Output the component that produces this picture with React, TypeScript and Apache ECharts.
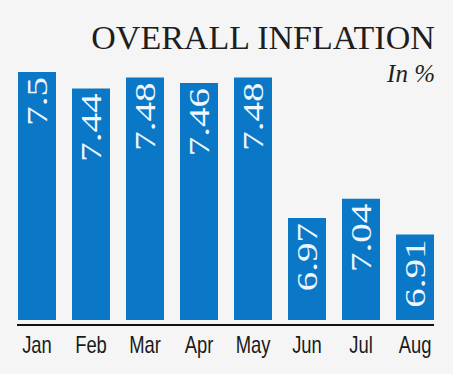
import React, { useEffect, useRef } from "react";
import * as echarts from "echarts";

const months = ["Jan", "Feb", "Mar", "Apr", "May", "Jun", "Jul", "Aug"];
const inflation = [7.5, 7.44, 7.48, 7.46, 7.48, 6.97, 7.04, 6.91];
const titleText = "OVERALL INFLATION";
const unitText = "In %";

const SERIF = "Liberation Serif";
const SANS = "Liberation Sans";

export default function App() {
  const ref = useRef<HTMLDivElement>(null);
  useEffect(() => {
    document.body.style.margin = "0";
    const chart = echarts.init(ref.current!, null, { renderer: "svg" });
    chart.setOption({
      animation: false,
      backgroundColor: "#f5f5f5",
      title: [
        {
          text: titleText,
          right: 12,
          top: 15,
          textStyle: {
            fontFamily: SERIF,
            fontWeight: "normal",
            fontSize: 34,
            color: "#1e1e1e",
          },
        },
        {
          text: unitText,
          right: 13,
          top: 56,
          textStyle: {
            fontFamily: SERIF,
            fontStyle: "italic",
            fontWeight: "normal",
            fontSize: 25,
            color: "#1e1e1e",
          },
        },
      ],
      grid: { left: 10, right: 11, top: 72, bottom: 54 },
      xAxis: {
        type: "category",
        data: months,
        axisLine: { show: false },
        axisTick: { show: false },
        axisLabel: { show: false },
      },
      yAxis: {
        type: "value",
        min: 6.6,
        max: 7.5,
        show: false,
        splitLine: { show: false },
      },
      series: [
        {
          type: "bar",
          data: inflation,
          barWidth: 38,
          itemStyle: { color: "#0a78c6" },
          label: { show: false },
        },
      ],
    });

    const graphics: any[] = [
      {
        id: "baseline",
        type: "line",
        shape: { x1: 17, y1: 325, x2: 434, y2: 325 },
        style: { stroke: "#111", lineWidth: 2 },
        z: 10,
      },
    ];
    months.forEach((m, i) => {
      const [x] = chart.convertToPixel({ seriesIndex: 0 }, [i, inflation[i]]) as number[];
      graphics.push({
        id: "month" + i,
        type: "text",
        x,
        y: 345,
        scaleX: 0.8,
        style: {
          text: m,
          align: "center",
          verticalAlign: "middle",
          fontFamily: SANS,
          fontSize: 23,
          fill: "#1a1a1a",
        },
        z: 10,
      });
    });
    inflation.forEach((v, i) => {
      const [x, y] = chart.convertToPixel({ seriesIndex: 0 }, [i, v]) as number[];
      graphics.push({
        id: "val" + i,
        type: "text",
        x,
        y: y + 5,
        rotation: Math.PI / 2,
        scaleX: 1.3,
        style: {
          text: String(v),
          align: "right",
          verticalAlign: "middle",
          fontFamily: SERIF,
          fontSize: 30,
          fill: "#eef7ff",
        },
        z: 10,
      });
    });
    chart.setOption({ graphic: graphics });
    return () => chart.dispose();
  }, []);
  return <div ref={ref} style={{ width: 453, height: 374 }} />;
}
